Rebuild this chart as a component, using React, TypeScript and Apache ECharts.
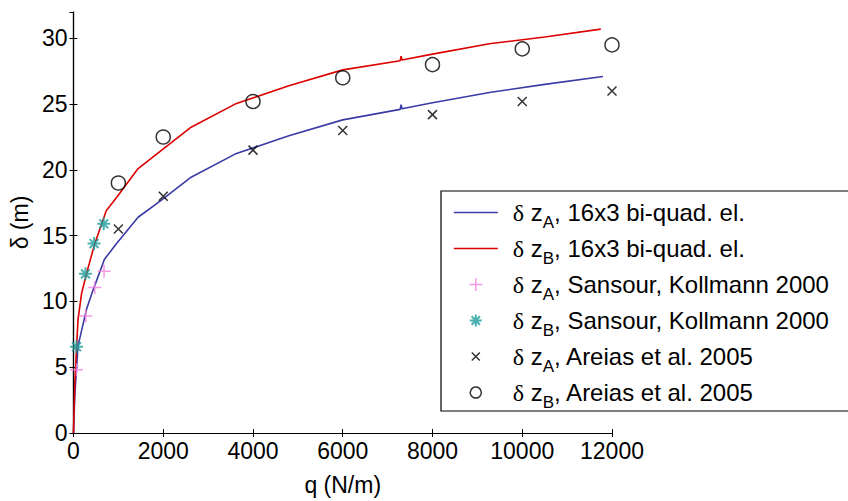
import React, { useEffect, useRef } from 'react';
import * as echarts from 'echarts';

// ---- axes ----
const xTickValues = [0, 2000, 4000, 6000, 8000, 10000, 12000];
const yTickValues = [0, 5, 10, 15, 20, 25, 30];
const yMax = 32;

// ---- FE curves (q in N/m, delta in m) ----
const feA: [number, number][] = [
  [0, 0], [30, 2.9], [100, 6.6], [290, 9.4], [440, 10.9], [690, 13.2], [960, 14.4],
  [1440, 16.4], [1960, 17.7], [2600, 19.4], [3600, 21.2], [4800, 22.6], [6000, 23.8],
  [7280, 24.6], [7300, 24.95], [7320, 24.65], [8000, 25.1], [9300, 25.9], [10500, 26.5], [11800, 27.1],
];
const feB: [number, number][] = [
  [0, 0], [30, 3.8], [100, 8.6], [180, 10.6], [290, 12.1], [470, 14.35], [730, 16.9], [960, 17.9],
  [1440, 20.1], [2600, 23.2], [3600, 25.0], [4800, 26.4], [6000, 27.6],
  [7280, 28.3], [7300, 28.65], [7320, 28.35], [8000, 28.8], [9300, 29.6], [10500, 30.1], [11750, 30.7],
];

// ---- reference points ----
const sansourA: [number, number][] = [[67, 4.8], [274, 8.9], [474, 11.05], [681, 12.3]];
const sansourB: [number, number][] = [[67, 6.56], [267, 12.1], [459, 14.4], [674, 15.9]];
const areiasA: [number, number][] = [
  [1000, 15.5], [2000, 18.0], [4000, 21.5], [6000, 23.0], [8000, 24.2], [10000, 25.2], [12000, 26.0],
];
const areiasB: [number, number][] = [
  [1000, 19.0], [2000, 22.5], [4000, 25.2], [6000, 27.0], [8000, 28.0], [10000, 29.2], [12000, 29.5],
];

// ---- legend labels ----
const legendSubs = ['A', 'B', 'A', 'B', 'A', 'B'];
const legendRests = [
  ', 16x3 bi-quad. el.',
  ', 16x3 bi-quad. el.',
  ', Sansour, Kollmann 2000',
  ', Sansour, Kollmann 2000',
  ', Areias et al. 2005',
  ', Areias et al. 2005',
];
const seriesNames = legendSubs.map((s, i) => 'δ z' + s + legendRests[i]);

const BLUE = '#3b3ba6';
const RED = '#dc0000';
const PINK = '#f57fe0';
const TEAL = '#1e9c9c';
const BLACK = '#000000';

const PLUS = 'path://M0,5L10,5M5,0L5,10';
const CROSS = 'path://M0,0L10,10M10,0L0,10';
const STAR = 'path://M0,5L10,5M5,0L5,10M1.6,1.6L8.4,8.4M8.4,1.6L1.6,8.4';
// legend variants padded with invisible move-to points so they draw smaller in the 14px icon box
const PLUS_LEG = 'path://M0,0M14,14M0.5,7L13.5,7M7,0.5L7,13.5';
const STAR_LEG = 'path://M0,0M14,14M1,7L13,7M7,1L7,13M2.8,2.8L11.2,11.2M11.2,2.8L2.8,11.2';
const CROSS_LEG = 'path://M0,0M14,14M3,3L11,11M11,3L3,11';
const CIRCLE_LEG = 'path://M0,0M14,14M7,1.5A5.5,5.5,0,1,1,6.99,1.5Z';

const FONT = 'Liberation Sans, Arial, sans-serif';

export default function App() {
  const ref = useRef<HTMLDivElement>(null);

  useEffect(() => {
    if (!ref.current) return;
    const chart = echarts.init(ref.current, undefined, { renderer: 'svg' });

    const xMin = xTickValues[0];
    const xMax = xTickValues[xTickValues.length - 1];
    const xInt = xTickValues[1] - xTickValues[0];
    const yMin = yTickValues[0];
    const yInt = yTickValues[1] - yTickValues[0];

    const commonX = {
      type: 'value' as const,
      min: xMin,
      max: xMax,
      interval: xInt,
      splitLine: { show: false },
      axisLine: { show: true, lineStyle: { color: BLACK, width: 1.2 } },
      axisTick: { show: true, inside: true, length: 4, lineStyle: { color: BLACK, width: 1 } },
    };
    const commonY = {
      type: 'value' as const,
      min: yMin,
      max: yMax,
      interval: yInt,
      splitLine: { show: false },
      axisLine: { show: true, lineStyle: { color: BLACK, width: 1.2 } },
      axisTick: { show: true, inside: true, length: 4, lineStyle: { color: BLACK, width: 1 } },
    };

    const scatterBase = {
      type: 'scatter' as const,
      clip: false,
      symbolKeepAspect: true,
      z: 3,
    };

    const legendData = [
      { name: seriesNames[0], itemStyle: { color: 'transparent', borderWidth: 0, opacity: 0 }, lineStyle: { color: BLUE, width: 1.6 } },
      { name: seriesNames[1], itemStyle: { color: 'transparent', borderWidth: 0, opacity: 0 }, lineStyle: { color: RED, width: 1.6 } },
      { name: seriesNames[2], icon: PLUS_LEG, itemStyle: { color: 'transparent', borderColor: PINK, borderWidth: 1.5 } },
      { name: seriesNames[3], icon: STAR_LEG, itemStyle: { color: 'transparent', borderColor: TEAL, borderWidth: 2 } },
      { name: seriesNames[4], icon: CROSS_LEG, itemStyle: { color: 'transparent', borderColor: BLACK, borderWidth: 1.5 } },
      { name: seriesNames[5], icon: CIRCLE_LEG, itemStyle: { color: 'transparent', borderColor: BLACK, borderWidth: 1.5 } },
    ];

    chart.setOption({
      animation: false,
      backgroundColor: '#ffffff',
      textStyle: { fontFamily: FONT },
      grid: { left: 72, top: 12, right: 236, bottom: 63, containLabel: false },
      graphic: [
        {
          type: 'rect',
          z: 6,
          silent: true,
          shape: { x: 441, y: 191, width: 520, height: 220 },
          style: { fill: '#ffffff', stroke: BLACK, lineWidth: 1.2 },
        },
      ],
      xAxis: [
        {
          ...commonX,
          position: 'bottom',
          name: 'q (N/m)',
          nameLocation: 'middle',
          nameGap: 40,
          nameTextStyle: { fontSize: 23, color: BLACK, fontFamily: FONT },
          axisLabel: {
            show: true, fontSize: 23, color: BLACK, margin: 6, fontFamily: FONT,
            formatter: (v: number) => String(v),
          },
        },
        { ...commonX, position: 'top', axisLabel: { show: false } },
      ],
      yAxis: [
        {
          ...commonY,
          position: 'left',
          name: 'δ (m)',
          nameLocation: 'middle',
          nameGap: 38,
          nameTextStyle: { fontSize: 23, color: BLACK, fontFamily: FONT },
          axisLabel: {
            show: true, fontSize: 23, color: BLACK, margin: 6, showMaxLabel: false, fontFamily: FONT,
            formatter: (v: number) => String(v),
          },
        },
        { ...commonY, position: 'right', axisLabel: { show: false } },
      ],
      legend: {
        orient: 'vertical',
        left: 441,
        top: 191,
        padding: [3, 10, 0, 12],
        itemGap: -1,
        itemWidth: 44,
        itemHeight: 14,
        borderWidth: 0,
        backgroundColor: 'transparent',
        z: 10,
        data: legendData,
        formatter: (name: string) => {
          const i = seriesNames.indexOf(name);
          return '{d|δ}{m| z}{s|' + legendSubs[i] + '}{m|' + legendRests[i] + '}';
        },
        textStyle: {
          color: BLACK,
          rich: {
            d: { fontSize: 24, lineHeight: 37, fontFamily: 'Liberation Serif, serif', color: BLACK, padding: [0, 0, 0, 10] },
            m: { fontSize: 24, lineHeight: 37, fontFamily: FONT, color: BLACK },
            s: { fontSize: 17, lineHeight: 17, fontFamily: FONT, color: BLACK, padding: [20, 0, 0, 0] },
          },
        },
      },
      series: [
        {
          name: seriesNames[0], type: 'line', data: feA, symbol: 'none', showSymbol: false,
          lineStyle: { color: BLUE, width: 1.6 }, itemStyle: { color: BLUE }, z: 2,
        },
        {
          name: seriesNames[1], type: 'line', data: feB, symbol: 'none', showSymbol: false,
          lineStyle: { color: RED, width: 1.6 }, itemStyle: { color: RED }, z: 2,
        },
        {
          ...scatterBase, name: seriesNames[2], data: sansourA, symbol: PLUS, symbolSize: 13,
          itemStyle: { color: 'transparent', borderColor: PINK, borderWidth: 1.5 },
        },
        {
          ...scatterBase, name: seriesNames[3], data: sansourB, symbol: STAR, symbolSize: 13,
          itemStyle: { color: 'transparent', borderColor: TEAL, borderWidth: 2 },
        },
        {
          ...scatterBase, name: seriesNames[4], data: areiasA, symbol: CROSS, symbolSize: 9,
          itemStyle: { color: 'transparent', borderColor: BLACK, borderWidth: 1.5 },
        },
        {
          ...scatterBase, name: seriesNames[5], data: areiasB, symbol: 'circle', symbolSize: 14,
          itemStyle: { color: 'transparent', borderColor: BLACK, borderWidth: 1.5 },
        },
      ],
    });

    return () => chart.dispose();
  }, []);

  return <div ref={ref} style={{ width: 848, height: 501, position: 'absolute', left: 0, top: 0 }} />;
}
